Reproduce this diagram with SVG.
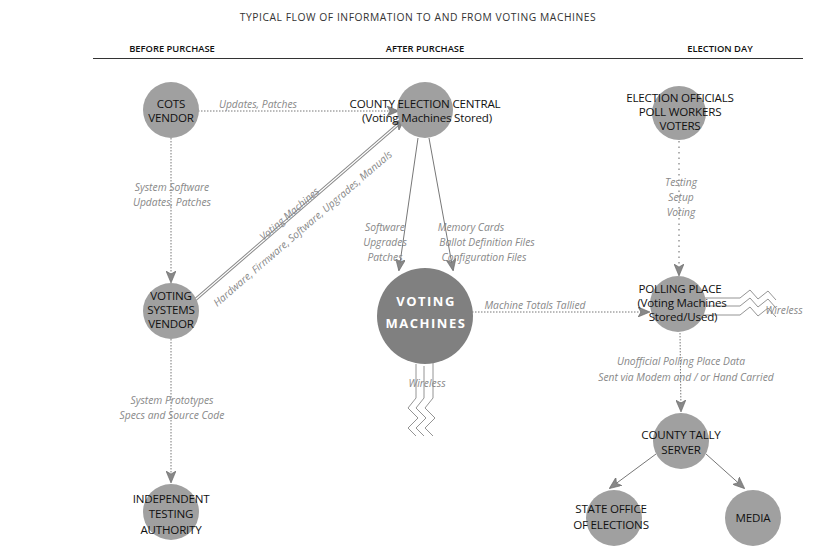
<svg xmlns="http://www.w3.org/2000/svg" width="836" height="560" viewBox="0 0 836 560">
<style>
.title{font-family:"Open Sans","Liberation Sans",sans-serif;font-size:10.3px;fill:#333;text-anchor:middle;letter-spacing:0.55px}
.hdr{font-family:"Open Sans","Liberation Sans",sans-serif;font-size:9.4px;font-weight:600;fill:#111;text-anchor:middle}
.node{fill:#a0a0a0}
.vm{fill:#808080}
.nt{font-family:"Open Sans","Liberation Sans",sans-serif;font-size:11.6px;fill:#111;text-anchor:middle;letter-spacing:-0.2px}
.vmt{font-family:"Open Sans","Liberation Sans",sans-serif;font-size:13px;font-weight:700;fill:#fff;text-anchor:middle;letter-spacing:1.5px}
.lbl{font-family:"Open Sans","Liberation Sans",sans-serif;font-size:10.3px;font-style:italic;fill:#888;text-anchor:middle}
.dot{stroke:#777;stroke-width:1;fill:none;stroke-dasharray:1.5 1.5}
.bigdot{stroke:#888;stroke-width:1.3;fill:none;stroke-dasharray:1.5 4}
.sol{stroke:#777;stroke-width:1;fill:none}
.zz{stroke:#888;stroke-width:0.9;fill:none}
</style>
<defs>
<marker id="ah" viewBox="0 0 12 10" refX="11" refY="5" markerWidth="12" markerHeight="10" markerUnits="userSpaceOnUse" orient="auto">
<path d="M0,0 L12,5 L0,10 L3,5 z" fill="#888" stroke="#666" stroke-width="0.6"/>
</marker>
</defs>
<rect width="836" height="560" fill="#fff"/>
<text class="title" x="418" y="21">TYPICAL FLOW OF INFORMATION TO AND FROM VOTING MACHINES</text>
<text class="hdr" x="172" y="52">BEFORE PURCHASE</text>
<text class="hdr" x="425" y="52">AFTER PURCHASE</text>
<text class="hdr" x="720" y="52">ELECTION DAY</text>
<line x1="93" y1="58.5" x2="803" y2="58.5" stroke="#333" stroke-width="1.2"/>

<g id="connectors">
<line class="dot" x1="198" y1="111" x2="398" y2="111" marker-end="url(#ah)"/>
<line class="dot" x1="171" y1="138" x2="171" y2="282" marker-end="url(#ah)"/>
<line class="dot" x1="171" y1="339" x2="171" y2="482" marker-end="url(#ah)"/>
<g>
<line x1="196" y1="299" x2="402" y2="121" stroke="#888" stroke-width="3.2"/>
<line x1="196" y1="299" x2="402" y2="121" stroke="#fff" stroke-width="1.2"/>
<line x1="392" y1="129.6" x2="404" y2="119.3" stroke="#888" stroke-width="0.1" marker-end="url(#ah)"/>
</g>
<line class="sol" x1="418" y1="138" x2="399" y2="270" marker-end="url(#ah)"/>
<line class="sol" x1="429" y1="138" x2="453" y2="270" marker-end="url(#ah)"/>
<line class="dot" x1="472" y1="312" x2="649" y2="312" marker-end="url(#ah)"/>
<line class="bigdot" x1="679" y1="141" x2="679" y2="275" marker-end="url(#ah)"/>
<line class="dot" x1="680" y1="333" x2="681" y2="411" marker-end="url(#ah)"/>
<line class="sol" x1="656" y1="454" x2="610" y2="488" marker-end="url(#ah)"/>
<line class="sol" x1="706" y1="454" x2="744" y2="488" marker-end="url(#ah)"/>
<path class="zz" d="M416,364 V398 L408,408 L418,418 L408,428 L416,436"/>
<path class="zz" d="M424,366 V398 L416,408 L426,418 L416,428 L424,436"/>
<path class="zz" d="M433,363 V398 L425,408 L435,418 L425,428 L433,436"/>
<path class="zz" d="M702,298 H740 L750,290 L758,299 L768,291 L776,300"/>
<path class="zz" d="M707,306 H740 L750,298 L758,307 L768,299 L776,308"/>
<path class="zz" d="M703,315 H740 L750,307 L758,316 L768,308 L776,317"/>
</g>

<g id="labels">
<text class="lbl" x="258" y="108">Updates, Patches</text>
<text class="lbl" x="172" y="191">System Software</text>
<text class="lbl" x="172" y="206">Updates, Patches</text>
<text class="lbl" x="172" y="404">System Prototypes</text>
<text class="lbl" x="172" y="419">Specs and Source Code</text>
<text class="lbl" transform="translate(291,216) rotate(-40.8)" x="0" y="1">Voting Machines</text>
<text class="lbl" transform="translate(303,229) rotate(-40.8)" x="0" y="3">Hardware, Firmware, Software, Upgrades, Manuals</text>
<text class="lbl" x="385" y="231">Software</text>
<text class="lbl" x="385" y="246">Upgrades</text>
<text class="lbl" x="385" y="261">Patches</text>
<text class="lbl" x="471" y="231">Memory Cards</text>
<text class="lbl" x="487" y="246">Ballot Definition Files</text>
<text class="lbl" x="484" y="261">Configuration Files</text>
<text class="lbl" x="427" y="387">Wireless</text>
<text class="lbl" x="535" y="309">Machine Totals Tallied</text>
<text class="lbl" x="681" y="186">Testing</text>
<text class="lbl" x="681" y="201">Setup</text>
<text class="lbl" x="681" y="216">Voting</text>
<text class="lbl" x="784" y="314">Wireless</text>
<text class="lbl" x="681" y="365">Unofficial Polling Place Data</text>
<text class="lbl" x="686" y="381">Sent via Modem and / or Hand Carried</text>
</g>

<g id="cots-vendor">
<circle class="node" cx="171" cy="110" r="28"/>
<text class="nt" x="171" y="108">COTS</text>
<text class="nt" x="171" y="122">VENDOR</text>
</g>
<g id="county-election-central">
<circle class="node" cx="425" cy="110" r="28"/>
<text class="nt" x="425" y="108">COUNTY ELECTION CENTRAL</text>
<text class="nt" x="427" y="122">(Voting Machines Stored)</text>
</g>
<g id="election-officials">
<circle class="node" cx="679" cy="113" r="27"/>
<text class="nt" x="680" y="102">ELECTION OFFICIALS</text>
<text class="nt" x="680" y="116">POLL WORKERS</text>
<text class="nt" x="680" y="130">VOTERS</text>
</g>
<g id="voting-systems-vendor">
<circle class="node" cx="171" cy="311" r="28"/>
<text class="nt" x="171" y="300">VOTING</text>
<text class="nt" x="171" y="314">SYSTEMS</text>
<text class="nt" x="171" y="328">VENDOR</text>
</g>
<g id="voting-machines">
<circle class="vm" cx="425" cy="316" r="48"/>
<text class="vmt" x="426" y="306">VOTING</text>
<text class="vmt" x="426" y="328">MACHINES</text>
</g>
<g id="polling-place">
<circle class="node" cx="678" cy="304" r="28"/>
<text class="nt" x="680" y="293">POLLING PLACE</text>
<text class="nt" x="682" y="307">(Voting Machines</text>
<text class="nt" x="683" y="321">Stored/Used)</text>
</g>
<g id="independent-testing-authority">
<circle class="node" cx="171" cy="512" r="28"/>
<text class="nt" x="171" y="503">INDEPENDENT</text>
<text class="nt" x="171" y="518">TESTING</text>
<text class="nt" x="171" y="534">AUTHORITY</text>
</g>
<g id="county-tally-server">
<circle class="node" cx="681" cy="441" r="28"/>
<text class="nt" x="681" y="439">COUNTY TALLY</text>
<text class="nt" x="681" y="454">SERVER</text>
</g>
<g id="state-office-of-elections">
<circle class="node" cx="614" cy="518" r="28"/>
<text class="nt" x="611" y="513">STATE OFFICE</text>
<text class="nt" x="611" y="529">OF ELECTIONS</text>
</g>
<g id="media">
<circle class="node" cx="753" cy="518" r="28"/>
<text class="nt" x="753" y="522">MEDIA</text>
</g>
</svg>
